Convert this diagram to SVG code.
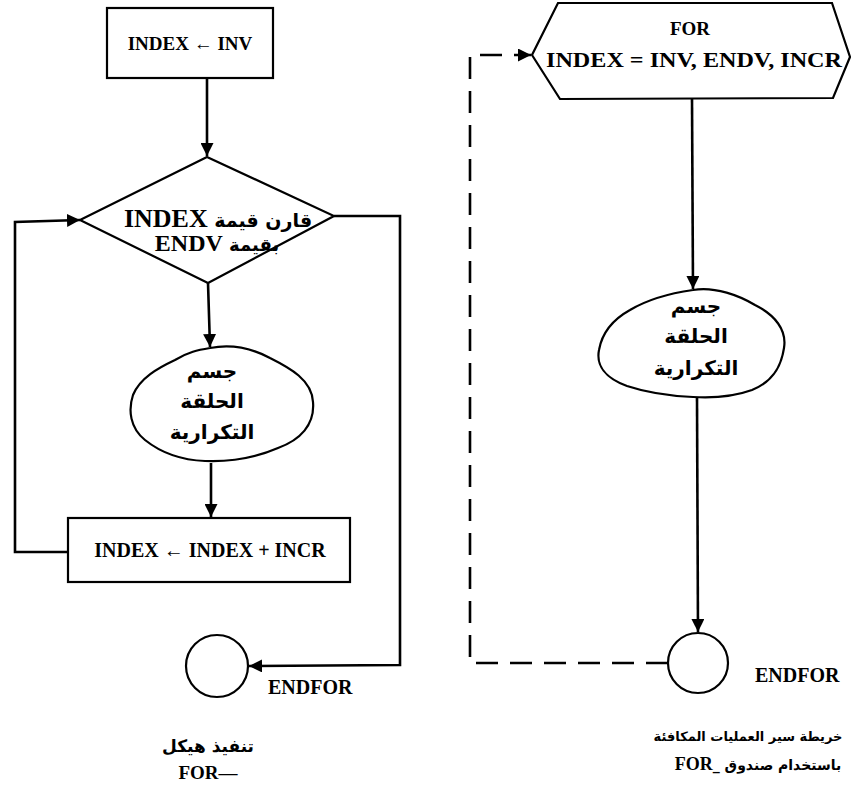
<svg xmlns="http://www.w3.org/2000/svg" width="851" height="792" viewBox="0 0 851 792">
<style>
.shape{fill:#fff;stroke:#000;stroke-width:2.2}
.line{fill:none;stroke:#000;stroke-width:2.6}
.dash{fill:none;stroke:#000;stroke-width:2.6;stroke-dasharray:22 12}
.en{font-family:"Liberation Serif","Times New Roman",serif;font-weight:bold;fill:#000}
.ar{font-family:"DejaVu Sans","Noto Sans",sans-serif;font-weight:bold;fill:#000}
</style>
<defs>
<marker id="arr" viewBox="0 0 10 10" refX="10" refY="5" markerWidth="5" markerHeight="5" markerUnits="strokeWidth" orient="auto">
<path d="M0,0 L10,5 L0,10 Z" fill="#000"/>
</marker>
</defs>
<rect width="851" height="792" fill="#fff"/>

<g id="connectors">
<line class="line" x1="207" y1="78" x2="207" y2="156" marker-end="url(#arr)"/>
<line class="line" x1="208" y1="283" x2="210" y2="347" marker-end="url(#arr)"/>
<line class="line" x1="211" y1="463" x2="211" y2="517" marker-end="url(#arr)"/>
<polyline class="line" points="68,552 15,552 15,222 80,220" marker-end="url(#arr)"/>
<polyline class="line" points="334,216 400,216 400,665 249,666" marker-end="url(#arr)"/>
<line class="line" x1="692" y1="99" x2="693" y2="289" marker-end="url(#arr)"/>
<line class="line" x1="697" y1="397" x2="698" y2="632" marker-end="url(#arr)"/>
<polyline class="dash" points="668,663 470,663 470,55 531,55" marker-end="url(#arr)"/>
</g>

<g id="init">
<rect class="shape" x="107" y="8" width="166" height="70"/>
<text class="en" x="190" y="50" font-size="19" text-anchor="middle">INDEX ← INV</text>
</g>

<g id="compare">
<polygon class="shape" points="207,157 334,216 208,283 80,220"/>
<text x="218" y="227" text-anchor="middle" direction="rtl"><tspan class="ar" font-size="19">قارن قيمة </tspan><tspan class="en" font-weight="normal" font-size="26">INDEX</tspan></text>
<text x="217" y="251" text-anchor="middle" direction="rtl"><tspan class="ar" font-size="18">بقيمة </tspan><tspan class="en" font-weight="normal" font-size="24">ENDV</tspan></text>
</g>

<g id="body-left">
<path class="shape" d="M210,348 C235,343 255,350 270,358 C290,368 312,380 313,402 C315,425 300,440 278,448 C255,458 230,462 205,461 C180,460 160,452 145,440 C130,428 128,410 133,395 C140,378 158,368 175,360 C188,352 198,350 210,348 Z"/>
<text class="ar" x="212" y="378" font-size="20" text-anchor="middle" direction="rtl">جسم</text>
<text class="ar" x="212" y="408" font-size="20" text-anchor="middle" direction="rtl">الحلقة</text>
<text class="ar" x="212" y="439" font-size="20" text-anchor="middle" direction="rtl">التكرارية</text>
</g>

<g id="increment">
<rect class="shape" x="68" y="518" width="282" height="64"/>
<text class="en" x="210" y="557" font-size="20" text-anchor="middle">INDEX ← INDEX + INCR</text>
</g>

<g id="endfor-left">
<circle class="shape" cx="217" cy="666" r="31"/>
<text class="en" x="268" y="694" font-size="20">ENDFOR</text>
</g>

<g id="caption-left">
<text class="ar" x="208" y="752" font-size="17" text-anchor="middle" direction="rtl">تنفيذ هيكل</text>
<text class="en" x="208" y="779" font-size="19" text-anchor="middle">FOR—</text>
</g>

<g id="for-box">
<polygon class="shape" points="558,3 832,3 850,57 833,98 560,99 532,55"/>
<text class="en" x="690" y="35" font-size="19" text-anchor="middle">FOR</text>
<text class="en" x="694" y="67" font-size="20" text-anchor="middle" textLength="296" lengthAdjust="spacingAndGlyphs">INDEX = INV, ENDV, INCR</text>
</g>

<g id="body-right">
<path class="shape" d="M693,290 C715,286 740,296 755,305 C775,315 787,330 784,348 C781,368 772,382 752,390 C730,398 710,398 693,397 C670,396 645,392 627,386 C605,378 596,365 599,350 C602,333 612,320 630,310 C650,298 672,293 693,290 Z"/>
<text class="ar" x="696" y="313" font-size="20" text-anchor="middle" direction="rtl">جسم</text>
<text class="ar" x="696" y="343" font-size="20" text-anchor="middle" direction="rtl">الحلقة</text>
<text class="ar" x="696" y="375" font-size="20" text-anchor="middle" direction="rtl">التكرارية</text>
</g>

<g id="endfor-right">
<circle class="shape" cx="698" cy="663" r="30"/>
<text class="en" x="755" y="682" font-size="20">ENDFOR</text>
</g>

<g id="caption-right">
<text class="ar" x="748" y="741" font-size="13" text-anchor="middle" direction="rtl">خريطة سير العمليات المكافئة</text>
<text x="758" y="770" text-anchor="middle" direction="rtl"><tspan class="ar" font-size="14">باستخدام صندوق _</tspan><tspan class="en" font-size="18">FOR</tspan></text>
</g>
</svg>
